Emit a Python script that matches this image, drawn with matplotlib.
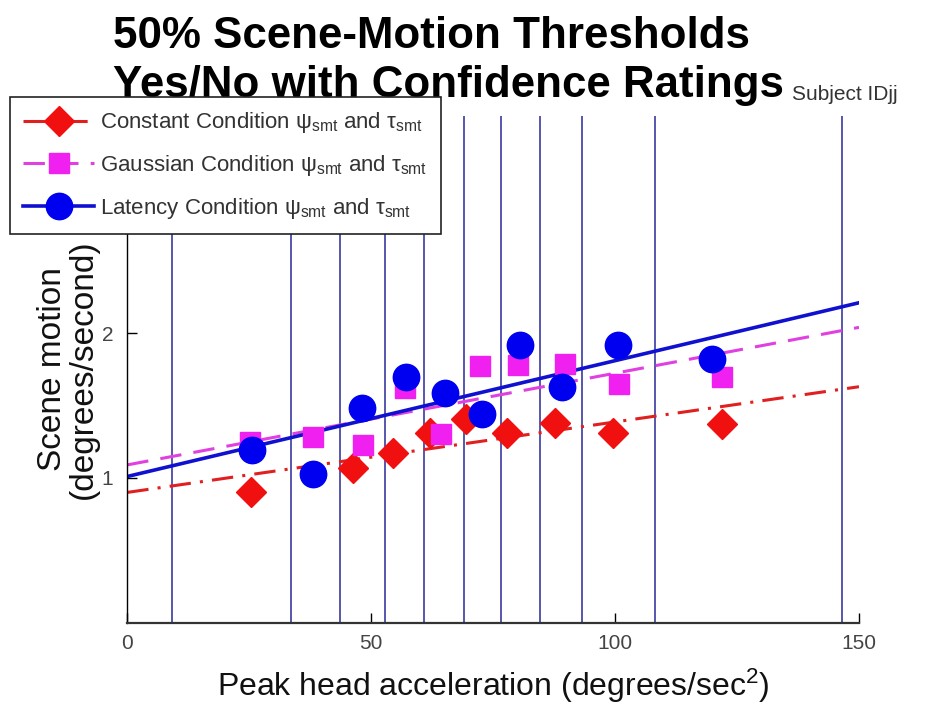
import matplotlib
matplotlib.use("Agg")
import matplotlib.pyplot as plt
from matplotlib.lines import Line2D

plt.rcParams['font.family'] = ['Liberation Sans', 'DejaVu Sans']
plt.rcParams['mathtext.fontset'] = 'custom'
plt.rcParams['mathtext.rm'] = 'Liberation Sans'
plt.rcParams['mathtext.it'] = 'Liberation Sans'

# ---- data ----
const_x = [25.4, 46.2, 54.5, 62.0, 69.4, 77.8, 87.7, 99.6, 121.9]
const_y = [0.90, 1.07, 1.17, 1.31, 1.41, 1.31, 1.38, 1.31, 1.37]

gauss_x = [25.1, 38.1, 48.3, 56.9, 64.3, 72.3, 80.1, 89.7, 100.8, 121.9]
gauss_y = [1.25, 1.28, 1.23, 1.62, 1.30, 1.77, 1.78, 1.79, 1.65, 1.70]

lat_x = [25.6, 38.1, 48.1, 57.1, 65.1, 72.7, 80.5, 89.1, 100.6, 119.9]
lat_y = [1.19, 1.03, 1.48, 1.70, 1.59, 1.44, 1.92, 1.63, 1.92, 1.82]

fit_x = [0, 150]
const_fit = [0.90, 1.63]
gauss_fit = [1.09, 2.04]
lat_fit = [1.01, 2.21]

vlines_x = [9.1, 33.6, 43.6, 52.8, 60.8, 69.0, 76.6, 84.6, 93.2, 108.1, 146.5]

xticks = [0, 50, 100, 150]
yticks = [1, 2]

title_lines = ["50% Scene-Motion Thresholds", "Yes/No with Confidence Ratings"]
labels = [r"Constant Condition $\psi_{\rm smt}$ and $\tau_{\rm smt}$",
          r"Gaussian Condition $\psi_{\rm smt}$ and $\tau_{\rm smt}$",
          r"Latency Condition $\psi_{\rm smt}$ and $\tau_{\rm smt}$"]

# ---- figure ----
W, H = 941, 709
fig = plt.figure(figsize=(W / 100, H / 100), dpi=100)
ax = fig.add_axes([127.3 / W, 1 - 622.7 / H, (859 - 127.3) / W, (622.7 - 116) / H])
ax.set_xlim(0, 150)
ax.set_ylim(0, 3.5)

for xv in vlines_x:
    ax.axvline(xv, color='#2a2a9a', lw=1.3, alpha=0.85, zorder=1)

red = '#f01010'
mag = '#f020f0'
blue = '#0000f0'

ax.plot(fit_x, const_fit, color='#e02020', lw=2.2, dashes=(7, 3, 1, 3), zorder=2)
ax.plot(fit_x, gauss_fit, color='#e040e0', lw=2.2, dashes=(7, 4), zorder=2)
ax.plot(fit_x, lat_fit, color='#1010d0', lw=2.6, zorder=2)

ax.plot(const_x, const_y, linestyle='none', marker='D', ms=15, color=red, mec=red, zorder=3)
ax.plot(gauss_x, gauss_y, linestyle='none', marker='s', ms=15, color=mag, mec=mag, zorder=4)
ax.plot(lat_x, lat_y, linestyle='none', marker='o', ms=19, color=blue, mec=blue, zorder=5)

ax.set_xticks(xticks)
ax.set_yticks(yticks)
ax.tick_params(direction='in', length=7, width=1, labelsize=15, labelcolor='#444444', pad=8)
ax.tick_params(axis='y', pad=10)
for s in ['top', 'right']:
    ax.spines[s].set_visible(False)
ax.spines['left'].set_linewidth(1.0)
ax.spines['bottom'].set_linewidth(1.6)
ax.spines['bottom'].set_color('#333333')

ax.set_xlabel("Peak head acceleration (degrees/sec$^2$)", fontsize=23, labelpad=10, color='#111111')
ax.set_ylabel("Scene motion\n(degrees/second)", fontsize=24, labelpad=2, color='#111111',
              linespacing=1.0)

fig.text(113 / W, 1 - 48 / H, title_lines[0], fontsize=31.6, fontweight='bold', ha='left', va='baseline')
fig.text(113 / W, 1 - 97 / H, title_lines[1], fontsize=31.6, fontweight='bold', ha='left', va='baseline')
fig.text(792 / W, 1 - 100 / H, "Subject IDjj", fontsize=15, color='#333333', ha='left', va='baseline')

handles = [
    Line2D([], [], color='#e02020', lw=2.2, dashes=(7, 3, 1, 3), marker='D', ms=15, mfc=red, mec=red),
    Line2D([], [], color='#e040e0', lw=2.2, dashes=(7, 4), marker='s', ms=15, mfc=mag, mec=mag),
    Line2D([], [], color='#1010d0', lw=2.6, marker='o', ms=19, mfc=blue, mec=blue),
]
leg = fig.legend(handles, labels, loc='upper left', bbox_to_anchor=(10 / W, 1 - 97 / H),
                 bbox_transform=fig.transFigure, borderaxespad=0, fontsize=16,
                 handlelength=3.2, handletextpad=0.25, labelspacing=0.8, borderpad=0.6,
                 fancybox=False, framealpha=1, edgecolor='#222222', numpoints=1)
leg.get_frame().set_linewidth(1.2)
for t in leg.get_texts():
    t.set_color('#333333')

fig.savefig("out.png", dpi=100)
